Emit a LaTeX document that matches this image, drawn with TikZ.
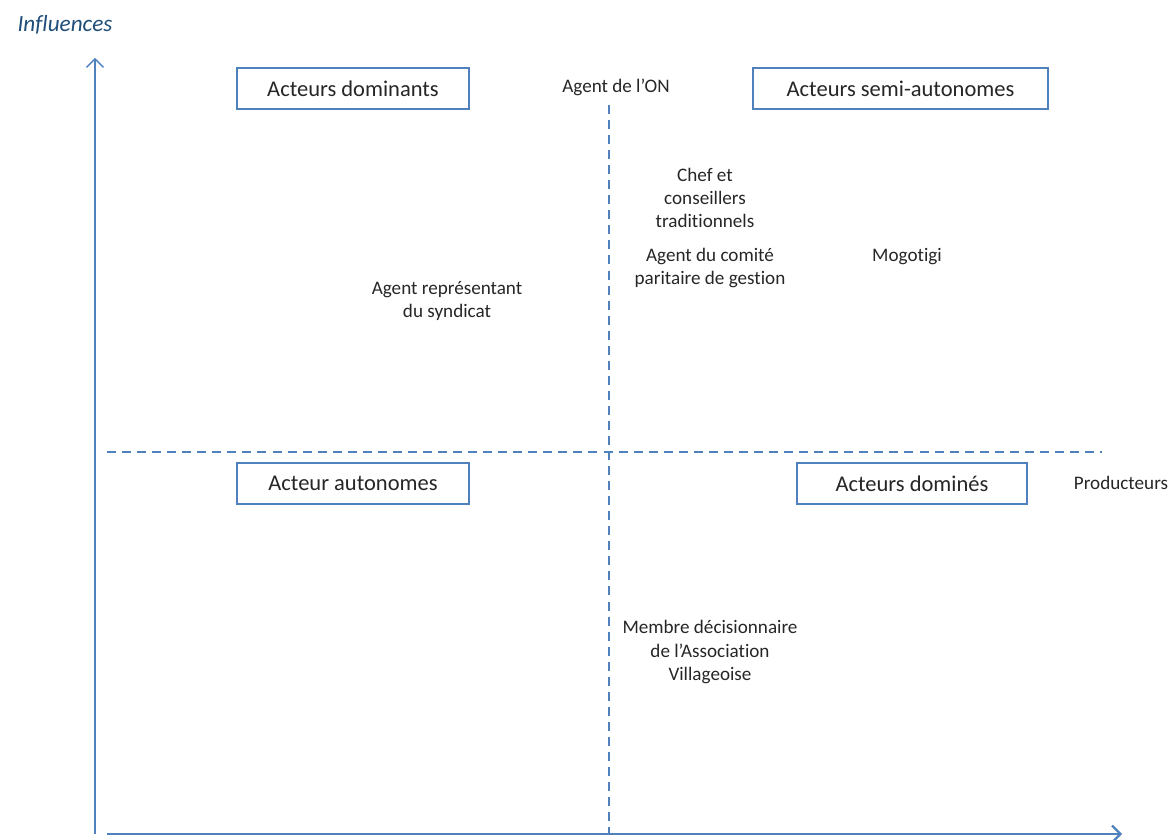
\documentclass[tikz,border=0pt]{standalone}
\usepackage{fontspec}
\setmainfont[Ligatures={NoCommon}]{Carlito}
\usepackage{tikz}
\usetikzlibrary{arrows.meta}
\definecolor{axisblue}{HTML}{4F81BD}
\definecolor{titleblue}{HTML}{1F4E79}
\definecolor{txtgray}{HTML}{262626}

\begin{document}
\begin{tikzpicture}[x=0.025cm, y=-0.025cm, >={Straight Barb[length=6pt,width=12pt]},
    quadrant/.style={draw=axisblue, line width=1pt, minimum width=232*0.025cm, minimum height=41*0.025cm, inner sep=0pt, font=\fontsize{16}{19}\selectfont, text=txtgray},
    actor/.style={align=center, font=\fontsize{13.6}{16.4}\selectfont, text=txtgray},
    divider/.style={axisblue, line width=1pt, dash pattern=on 6.4pt off 4.3pt}]
    \useasboundingbox (0,0) rectangle (1176,840);
    % axes
    \coordinate (origin) at (95,834);
    \coordinate (ytop) at (95,58);
    \coordinate (xstart) at (107,834);
    \coordinate (xend) at (1122,834);
    \draw[->, axisblue, line width=1pt] (origin) -- (ytop);
    \draw[->, axisblue, line width=1.6pt] (xstart) -- (xend);
    \node[font=\itshape\fontsize{16.5}{19}\selectfont, text=titleblue] (influences) at (65,25) {Influences};
    % quadrants
    \coordinate (vtop) at (609,105);
    \coordinate (vbot) at (609,834);
    \coordinate (hleft) at (107,452);
    \coordinate (hright) at (1102,452);
    \draw[divider] (vtop) -- (vbot);
    \draw[divider] (hleft) -- (hright);
    \node[quadrant] (dominants) at (353,88.5) {Acteurs dominants};
    \node[quadrant, minimum width=295*0.025cm] (semiauto) at (900.5,88.5) {Acteurs semi-autonomes};
    \node[quadrant] (autonomes) at (353,483.5) {Acteur autonomes};
    \node[quadrant, minimum width=230*0.025cm] (domines) at (912,483.5) {Acteurs dominés};
    % actors
    \node[actor] (agenton) at (616,87) {Agent de l'ON};
    \node[actor] (chef) at (705,198) {Chef et\\conseillers\\traditionnels};
    \node[actor] (comite) at (710,268) {Agent du comité\\paritaire de gestion};
    \node[actor] (mogotigi) at (907,257) {Mogotigi};
    \node[actor] (syndicat) at (447,301) {Agent représentant\\du syndicat};
    \node[actor] (producteurs) at (1121,483) {Producteurs};
    \node[actor] (membre) at (710,652) {Membre décisionnaire\\de l'Association\\Villageoise};
\end{tikzpicture}
\end{document}
